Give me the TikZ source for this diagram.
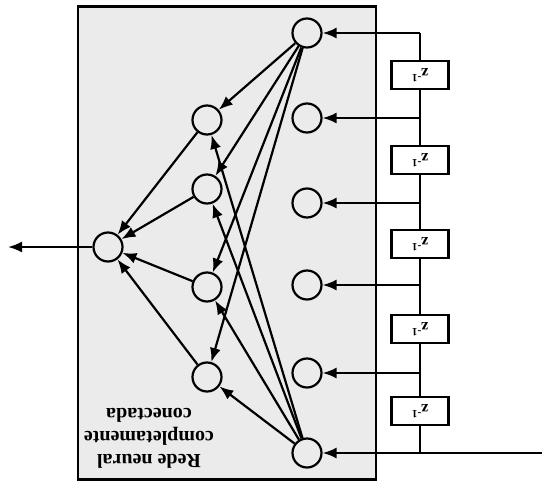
\documentclass[tikz,border=0pt]{standalone}
\usepackage{fontspec}
\setmainfont{Liberation Serif}
\usetikzlibrary{arrows.meta}
\begin{document}
\begin{tikzpicture}[x=1pt,y=-1pt,
  neuron/.style={circle,draw,line width=2.2pt,minimum size=29pt,inner sep=0pt},
  delay/.style={draw,line width=2.2pt,minimum width=57pt,minimum height=28pt,inner sep=0pt,fill=white,font=\bfseries\fontsize{16}{18}\selectfont,rotate=180},
  wire/.style={line width=2.2pt},
  link/.style={wire,-{Latex[length=14pt,width=11pt]}},
  panel/.style={draw,line width=2.2pt,fill=black!8}]
\useasboundingbox (0,0) rectangle (542,485);

% panel of the fully connected network
\node[panel,minimum width=298pt,minimum height=473pt,inner sep=0pt] (net) at (227,243) {};

% input layer
\foreach \i/\y in {1/33,2/118,3/203,4/285,5/373,6/453}
  \node[neuron] (in\i) at (307,\y) {};
% hidden layer
\foreach \i/\y in {1/120,2/189,3/287,4/377}
  \node[neuron] (h\i) at (207,\y) {};
% output neuron
\node[neuron] (out) at (108,247) {};

% delay line
\foreach \i/\y in {1/75,2/160,3/244,4/329,5/411}
  \node[delay] (d\i) at (420,\y) {z\textsuperscript{-1}};
\foreach \i in {1,...,6}
  \coordinate (t\i) at (in\i -| d1);
\coordinate (src) at (542,453);
\coordinate (sink) at (8,247);

\draw[wire] (src) -- (t6) -- (d5) -- (t5) -- (d4) -- (t4) -- (d3) -- (t3) -- (d2) -- (t2) -- (d1) -- (t1);
\foreach \i in {1,...,6}
  \draw[link] (t\i) -- (in\i);

% connections to the hidden layer and the output
\foreach \j in {1,...,4} {
  \draw[link] (in1) -- (h\j);
  \draw[link] (in6) -- (h\j);
  \draw[link] (h\j) -- (out);
}
\draw[link] (out) -- (sink);

% caption
\node[rotate=180,align=center,font=\bfseries\fontsize{20}{23}\selectfont] (cap) at (149,438)
  {Rede neural\\completamente\\conectada};
\end{tikzpicture}
\end{document}
